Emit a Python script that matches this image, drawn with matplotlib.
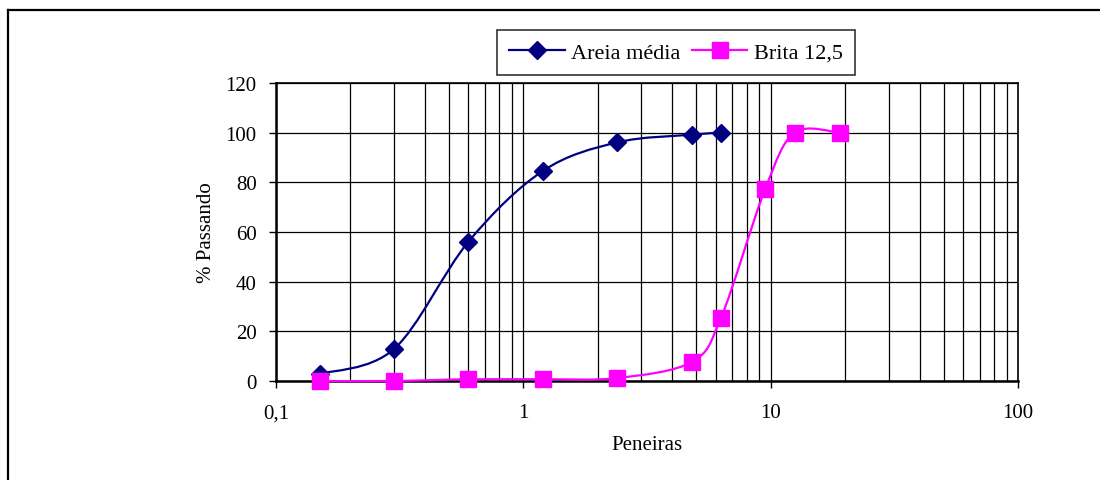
import numpy as np
import matplotlib
matplotlib.use("Agg")
import matplotlib.pyplot as plt
from matplotlib.path import Path
from matplotlib.patches import PathPatch
from matplotlib.lines import Line2D
from matplotlib.ticker import FixedLocator, FuncFormatter, LogLocator, NullFormatter

plt.rcParams['font.family'] = ['Liberation Serif', 'DejaVu Serif']

# sieve openings (mm) and % passing
areia_x = [0.15, 0.3, 0.6, 1.2, 2.4, 4.8, 6.3]
areia_y = [2.8, 12.9, 56.1, 84.6, 96.1, 99.2, 100.0]
brita_x = [0.15, 0.3, 0.6, 1.2, 2.4, 4.8, 6.3, 9.5, 12.5, 19.0]
brita_y = [0.0, 0.0, 0.7, 0.7, 1.2, 7.7, 25.5, 77.3, 100.0, 100.0]

y_ticks = [0, 20, 40, 60, 80, 100, 120]
x_ticks = [0.1, 1, 10, 100]
x_labels = ['0,1', '1', '10', '100']


def smooth_path(xs, ys):
    # Excel-like smoothed line: cubic bezier (catmull-rom) in log-x space
    u = np.log10(xs)
    v = np.array(ys, dtype=float)
    pts = np.column_stack([u, v])
    n = len(pts)
    verts = [pts[0]]
    codes = [Path.MOVETO]
    for i in range(n - 1):
        p0 = pts[i - 1] if i > 0 else pts[i]
        p1 = pts[i]
        p2 = pts[i + 1]
        p3 = pts[i + 2] if i + 2 < n else pts[i + 1]
        c1 = p1 + (p2 - p0) / 6.0
        c2 = p2 - (p3 - p1) / 6.0
        verts += [c1, c2, p2]
        codes += [Path.CURVE4] * 3
    verts = np.array(verts)
    verts[:, 0] = 10 ** verts[:, 0]
    return Path(verts, codes)


fig = plt.figure(figsize=(11, 4.81), dpi=100)
ax = fig.add_axes([276 / 1100, 99 / 481, 742 / 1100, 298 / 481])

ax.set_xscale('log')
ax.set_xlim(0.1, 100)
ax.set_ylim(0, 120)

navy = '#000080'
magenta = '#FF00FF'

ax.add_patch(PathPatch(smooth_path(areia_x, areia_y), fill=False, edgecolor=navy,
                       lw=1.6, zorder=3, clip_on=False))
ax.add_patch(PathPatch(smooth_path(brita_x, brita_y), fill=False, edgecolor=magenta,
                       lw=1.6, zorder=3, clip_on=False))
ax.plot(areia_x, areia_y, ls='none', marker='D', ms=9, color=navy, zorder=4, clip_on=False)
ax.plot(brita_x, brita_y, ls='none', marker='s', ms=11, color=magenta, zorder=4, clip_on=False)

ax.xaxis.set_major_locator(FixedLocator(x_ticks))
ax.xaxis.set_major_formatter(FuncFormatter(lambda v, p: x_labels[x_ticks.index(v)] if v in x_ticks else ''))
ax.xaxis.set_minor_locator(LogLocator(base=10, subs=np.arange(2, 10)))
ax.xaxis.set_minor_formatter(NullFormatter())
ax.set_yticks(y_ticks)

ax.grid(True, which='both', axis='x', color='black', lw=0.9)
ax.grid(True, which='major', axis='y', color='black', lw=0.9)
ax.set_axisbelow(True)

ax.tick_params(axis='both', which='major', direction='out', length=5, width=1,
               labelsize=15, colors='black')
ax.tick_params(axis='x', which='major', pad=11)
ax.tick_params(axis='y', which='major', pad=9)
ax.tick_params(axis='x', which='minor', length=0)
for s in ax.spines.values():
    s.set_linewidth(1.2)
ax.spines['left'].set_linewidth(1.8)
ax.spines['bottom'].set_linewidth(1.8)

ax.set_xlabel('Peneiras', fontsize=15, labelpad=9)
ax.set_ylabel('% Passando', fontsize=15, labelpad=7)

handles = [Line2D([], [], color=navy, lw=1.6, marker='D', ms=9),
           Line2D([], [], color=magenta, lw=1.6, marker='s', ms=11)]
leg = fig.legend(handles, ['Areia média', 'Brita 12,5'], loc='center',
                 bbox_to_anchor=(676 / 1100, 1 - 53.5 / 481), ncol=2, fontsize=16,
                 frameon=True, fancybox=False, edgecolor='black', handlelength=2.5,
                 columnspacing=0.5, handletextpad=0.3, borderpad=0.55,
                 borderaxespad=0)
leg.get_frame().set_linewidth(1.2)

# outer chart-area frame (left and top edges visible)
fig.add_artist(Line2D([8 / 1100, 8 / 1100], [0, 1 - 11 / 481], color='black', lw=1.6))
fig.add_artist(Line2D([8 / 1100, 1], [1 - 11 / 481, 1 - 11 / 481], color='black', lw=1.6))

fig.savefig('out.png', dpi=100)
